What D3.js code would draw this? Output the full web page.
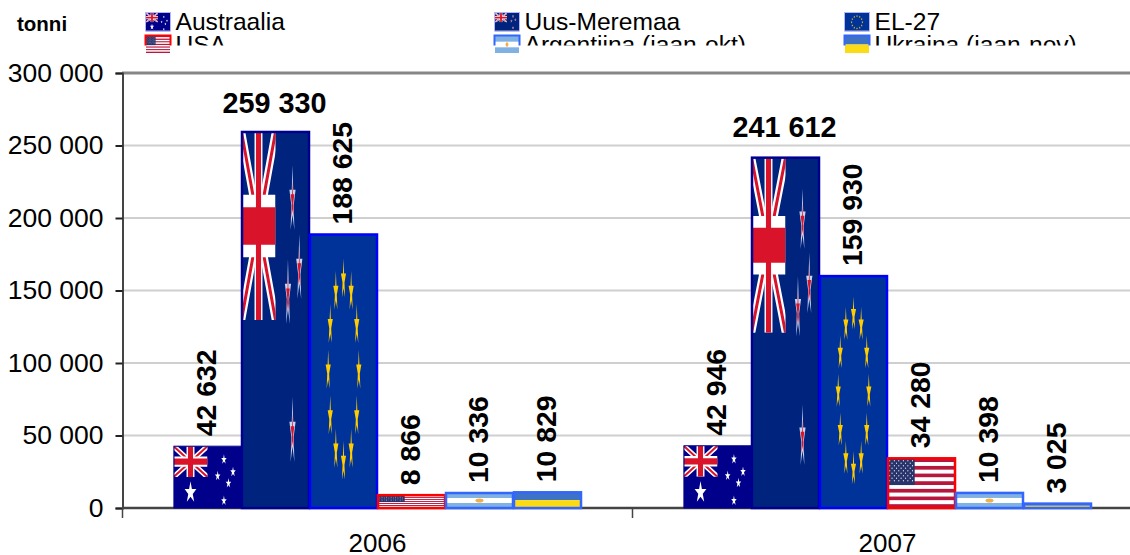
<!DOCTYPE html>
<html>
<head>
<meta charset="utf-8">
<script src="https://cdnjs.cloudflare.com/ajax/libs/d3/7.8.5/d3.min.js"></script>
<style>
  body { margin: 0; background: #fff; }
  text { font-family: "Liberation Sans", Arial, sans-serif; fill: #000; }
</style>
</head>
<body>
<script>
// values
const years = ["2006", "2007"];
const seriesNames = ["Austraalia", "Uus-Meremaa", "EL-27", "USA", "Argentiina (jaan-okt)", "Ukraina (jaan-nov)"];
const flagKeys = ["au", "nz", "eu", "us", "ar", "ua"];
const values2006 = [42632, 259330, 188625, 8866, 10336, 10829];
const values2007 = [42946, 241612, 159930, 34280, 10398, 3025];
const yTicks = [0, 50000, 100000, 150000, 200000, 250000, 300000];
const borderColors = ["#00008f", "#000090", "#0000ff", "#ff0000", "#3366ff", "#3366ff"];
const yearValues = [values2006, values2007];

const width = 1130;
const height = 555;

const svg = d3.select("body").append("svg")
  .attr("width", width)
  .attr("height", height)
  .style("display", "block");

const y = d3.scaleLinear().domain([0, 300000]).range([508, 73]);
const xYear = d3.scaleBand().domain(years).range([122.5, 1142.5]);
const xSeries = d3.scaleBand().domain(seriesNames).range([0, xYear.bandwidth()])
  .paddingInner(0).paddingOuter(0.75);

const fmt = d3.formatLocale({ decimal: ",", thousands: " ", grouping: [3], currency: ["", ""] }).format(",d");

// gridlines
svg.append("g").selectAll("line")
  .data(yTicks.filter(d => d > 0))
  .enter().append("line")
  .attr("x1", 122).attr("x2", width)
  .attr("y1", d => y(d)).attr("y2", d => y(d))
  .attr("stroke", d => d === 300000 ? "#868686" : "#cfcfcf")
  .attr("stroke-width", d => d === 300000 ? 3 : 2);

// axes
const yAxis = svg.append("g")
  .attr("transform", "translate(122.5,0)")
  .call(d3.axisLeft(y).tickValues(yTicks).tickFormat(fmt).tickSize(7).tickPadding(12));
yAxis.selectAll("text").style("font-size", "26.5px");
yAxis.select(".domain").attr("stroke", "#444").attr("stroke-width", 2);
yAxis.selectAll(".tick line").attr("stroke", "#222").attr("stroke-width", 2);

const xAxisLine = svg.append("g").attr("transform", "translate(0,508)");
xAxisLine.append("line").attr("x1", 122).attr("x2", width)
  .attr("stroke", "#444").attr("stroke-width", 2.5);
xAxisLine.selectAll(".sep")
  .data(years)
  .enter().append("line")
  .attr("class", "sep")
  .attr("x1", d => xYear(d)).attr("x2", d => xYear(d))
  .attr("y1", 0).attr("y2", 10)
  .attr("stroke", "#444").attr("stroke-width", 1.5);
svg.selectAll(".yearLabel")
  .data(years)
  .enter().append("text")
  .attr("class", "yearLabel")
  .attr("x", d => xYear(d) + xYear.bandwidth() / 2)
  .attr("y", 552)
  .attr("text-anchor", "middle")
  .style("font-size", "26px")
  .text(d => d);

// ---- flags, drawn in their own box and stretched to whatever size the bar has ----
function star(g, cx, cy, r, color) {
  g.append("path")
    .attr("d", d3.symbol(d3.symbolStar, r * r * 3.2)())
    .attr("transform", "translate(" + cx + "," + cy + ")")
    .attr("fill", color);
}

function unionJack(parent, blue) {
  // nested box so the diagonals stop at the edge of the canton
  const g = parent.append("svg").attr("width", 60).attr("height", 30).attr("viewBox", "0 0 60 30");
  g.append("rect").attr("width", 60).attr("height", 30).attr("fill", blue);
  g.append("path").attr("d", "M0,0L60,30M60,0L0,30").attr("stroke", "#fff").attr("stroke-width", 6);
  g.append("path").attr("d", "M0,0L60,30M60,0L0,30").attr("stroke", "#d8132a").attr("stroke-width", 2.4);
  g.append("path").attr("d", "M30,0V30").attr("stroke", "#fff").attr("stroke-width", 14);
  g.append("path").attr("d", "M0,15H60").attr("stroke", "#fff").attr("stroke-width", 10);
  g.append("path").attr("d", "M30,0V30").attr("stroke", "#d8132a").attr("stroke-width", 9);
  g.append("path").attr("d", "M0,15H60").attr("stroke", "#d8132a").attr("stroke-width", 6);
}

const flagDraw = {
  au: function (g) {
    g.append("rect").attr("width", 120).attr("height", 60).attr("fill", "#00008b");
    unionJack(g, "#00008b");
    star(g, 30, 45, 6.5, "#fff");
    [[89, 13], [105, 25], [78, 29], [97, 36], [89, 53]].forEach(p => star(g, p[0], p[1], 3, "#fff"));
  },
  nz: function (g) {
    g.append("rect").attr("width", 120).attr("height", 60).attr("fill", "#00247d");
    unionJack(g, "#00247d");
    [[90, 11], [102, 22], [82, 26], [90, 48]].forEach(p => {
      star(g, p[0], p[1], 3.4, "#c9d4ee");
      star(g, p[0], p[1], 2, "#d8132a");
    });
  },
  eu: function (g) {
    g.append("rect").attr("width", 120).attr("height", 60).attr("fill", "#003399");
    d3.range(12).forEach(i => {
      const a = i * Math.PI / 6;
      star(g, 60 + 27 * Math.sin(a), 30 - 20 * Math.cos(a), 2.8, "#ffcc00");
    });
  },
  us: function (g) {
    d3.range(13).forEach(i => {
      g.append("rect").attr("y", i * 60 / 13).attr("width", 120).attr("height", 60 / 13 + 0.1)
        .attr("fill", i % 2 ? "#fff" : "#b8173d");
    });
    g.append("rect").attr("width", 48).attr("height", 60 * 7 / 13).attr("fill", "#28346b");
    d3.range(9).forEach(r => {
      d3.range(r % 2 ? 5 : 6).forEach(c => {
        g.append("circle")
          .attr("cx", 4 + c * 8 + (r % 2 ? 4 : 0)).attr("cy", 3 + r * 3)
          .attr("r", 0.9).attr("fill", "#fff");
      });
    });
  },
  ar: function (g) {
    g.append("rect").attr("width", 120).attr("height", 60).attr("fill", "#7fb2e2");
    g.append("rect").attr("y", 20).attr("width", 120).attr("height", 20).attr("fill", "#fff");
    g.append("ellipse").attr("cx", 60).attr("cy", 30).attr("rx", 7).attr("ry", 8).attr("fill", "#f3b04a");
  },
  ua: function (g) {
    g.append("rect").attr("width", 120).attr("height", 30).attr("fill", "#3d72c4");
    g.append("rect").attr("y", 30).attr("width", 120).attr("height", 30).attr("fill", "#fbdc14");
  }
};

function addFlag(parent, key, bx, by, bw, bh) {
  const inner = parent.append("svg")
    .attr("x", bx).attr("y", by)
    .attr("width", bw).attr("height", bh)
    .attr("viewBox", "0 0 120 60")
    .attr("preserveAspectRatio", "none");
  flagDraw[key](inner.append("g"));
}

// ---- bars ----
const barLayer = svg.append("g");
years.forEach((year, yi) => {
  const vals = yearValues[yi];
  seriesNames.forEach((name, si) => {
    const bx = xYear(year) + xSeries(name);
    const bw = xSeries.bandwidth();
    const by = y(vals[si]);
    const bh = y(0) - by;
    addFlag(barLayer, flagKeys[si], bx, by, bw, bh);
    barLayer.append("rect")
      .attr("x", bx + 0.5).attr("y", by)
      .attr("width", bw - 1).attr("height", bh)
      .attr("fill", "none")
      .attr("stroke", borderColors[si])
      .attr("stroke-width", si === 0 ? 1 : 2.5);
  });
});

// ---- value labels ----
years.forEach((year, yi) => {
  const vals = yearValues[yi];
  seriesNames.forEach((name, si) => {
    const cx = xYear(year) + xSeries(name) + xSeries.bandwidth() / 2;
    const top = y(vals[si]);
    if (si === 1) {
      // the tallest bar carries its label flat
      svg.append("text")
        .attr("x", cx - 1).attr("y", top - (yi === 0 ? 19 : 21))
        .attr("text-anchor", "middle")
        .style("font-size", "28.8px").style("font-weight", "bold")
        .text(fmt(vals[si]));
    } else {
      svg.append("text")
        .attr("transform", "translate(" + cx + "," + (top - 10) + ") rotate(-90)")
        .attr("dy", "0.29em")
        .style("font-size", "28.4px").style("font-weight", "bold")
        .text(fmt(vals[si]));
    }
  });
});

// ---- legend; its box is too short so the second row gets cut ----
svg.append("text").attr("x", 17).attr("y", 31)
  .style("font-size", "20.5px").style("font-weight", "bold").text("tonni");

svg.append("clipPath").attr("id", "legendClip")
  .append("rect").attr("x", 130).attr("y", 0).attr("width", 1000).attr("height", 45.5);

const legendX = [145, 494, 844];
const legendRowY = [12, 35];
const legendBaseline = [30, 53];
const legendBoxH = [18.5, 17];
seriesNames.forEach((name, i) => {
  const col = i % 3;
  const row = Math.floor(i / 3);
  addFlag(svg, flagKeys[i], legendX[col] + 1, legendRowY[row] + 1, 24, legendBoxH[row]);
  const g = svg.append("g").attr("clip-path", "url(#legendClip)");
  g.append("rect")
    .attr("x", legendX[col] + 0.5).attr("y", legendRowY[row] + 0.5)
    .attr("width", 25).attr("height", legendBoxH[row])
    .attr("fill", "none")
    .attr("stroke", row === 0 ? "#b5b5f5" : borderColors[i])
    .attr("stroke-width", row === 0 ? 1 : 2);
  g.append("text")
    .attr("x", legendX[col] + 30.5).attr("y", legendBaseline[row])
    .style("font-size", "24.6px")
    .text(name);
});
</script>
</body>
</html>
